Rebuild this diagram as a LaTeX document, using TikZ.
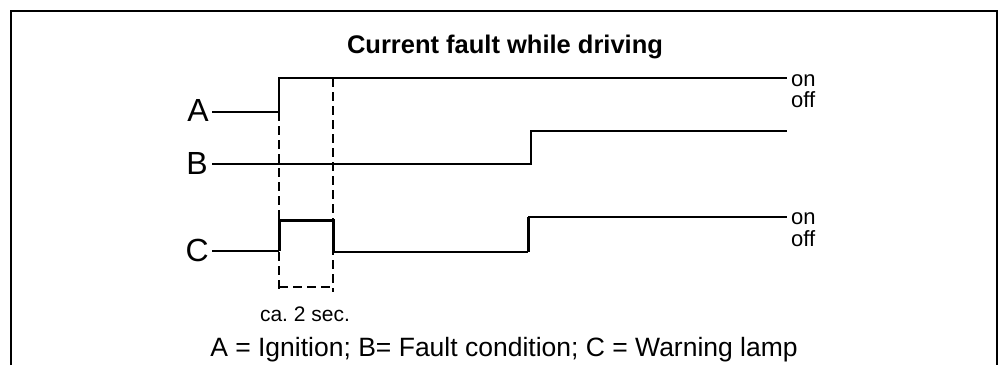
\documentclass[tikz,border=0pt]{standalone}
\usepackage{fontspec}
\setmainfont{Liberation Sans}
\frenchspacing
\begin{document}
\begin{tikzpicture}[x=1pt,y=-1pt,
  sig/.style={line width=2pt, line join=miter},
  sigthick/.style={line width=3pt, line join=miter},
  guide/.style={line width=1.6pt, dash pattern=on 9pt off 5pt},
  lbl/.style={inner sep=0pt, anchor=base east, font=\fontsize{32}{36}\selectfont},
  state/.style={inner sep=0pt, anchor=base west, font=\fontsize{22}{24}\selectfont},
  txt/.style={inner sep=0pt, anchor=base},
  frame/.style={line width=1.5pt}]
\useasboundingbox (0,0) rectangle (1002,365);
% frame
\coordinate (f1) at (11,365);
\coordinate (f2) at (11,11);
\coordinate (f3) at (997,11);
\coordinate (f4) at (997,365);
\draw[frame] (f1) -- (f2) -- (f3) -- (f4);
% title
\node[txt, font=\bfseries\fontsize{25.5}{30}\selectfont] (title) at (505,53) {Current fault while driving};
% labels
\node[lbl] (A) at (209,121) {A};
\node[lbl] (B) at (208,174) {B};
\node[lbl] (C) at (209,261) {C};
% signal A
\coordinate (a0) at (212,112);
\coordinate (a1) at (279,112);
\coordinate (a2) at (279,78);
\coordinate (a3) at (787,78);
\draw[sig] (a0) -- (a1) -- (a2) -- (a3);
% signal B
\coordinate (b0) at (212,164);
\coordinate (b1) at (531,164);
\coordinate (b2) at (531,131);
\coordinate (b3) at (787,131);
\draw[sig] (b0) -- (b1) -- (b2) -- (b3);
% signal C
\coordinate (c0) at (212,251);
\coordinate (c1) at (279,251);
\coordinate (c2) at (279,220);
\coordinate (c3) at (333,220);
\coordinate (c4) at (333,252);
\coordinate (c5) at (528,252);
\coordinate (c6) at (528,217);
\coordinate (c7) at (787,217);
\draw[sig] (c0) -- (c1);
\draw[sigthick] (c1) -- (c2) -- (c3) -- (c4);
\draw[sig] (c4) -- (c5);
\draw[sigthick] (c5) -- (c6);
\draw[sig] (c6) -- (c7);
% guides
\coordinate (g1b) at (279,291);
\coordinate (g2b) at (333,292);
\coordinate (h1) at (279,287);
\coordinate (h2) at (333,287);
\draw[guide] (a1) -- (g1b);
\draw[guide] (a2 -| c3) -- (g2b);
\draw[guide] (h1) -- (h2);
% state texts
\node[state] (aon) at (791,86) {on};
\node[state] (aoff) at (791,107) {off};
\node[state] (con) at (791,224) {on};
\node[state] (coff) at (791,246) {off};
% time and legend
\node[txt, font=\fontsize{21}{24}\selectfont] (time) at (305,321) {ca. 2 sec.};
\node[txt, font=\fontsize{26.5}{30}\selectfont] (legend) at (504,356) {A = Ignition; B= Fault condition; C = Warning lamp};
\end{tikzpicture}
\end{document}
